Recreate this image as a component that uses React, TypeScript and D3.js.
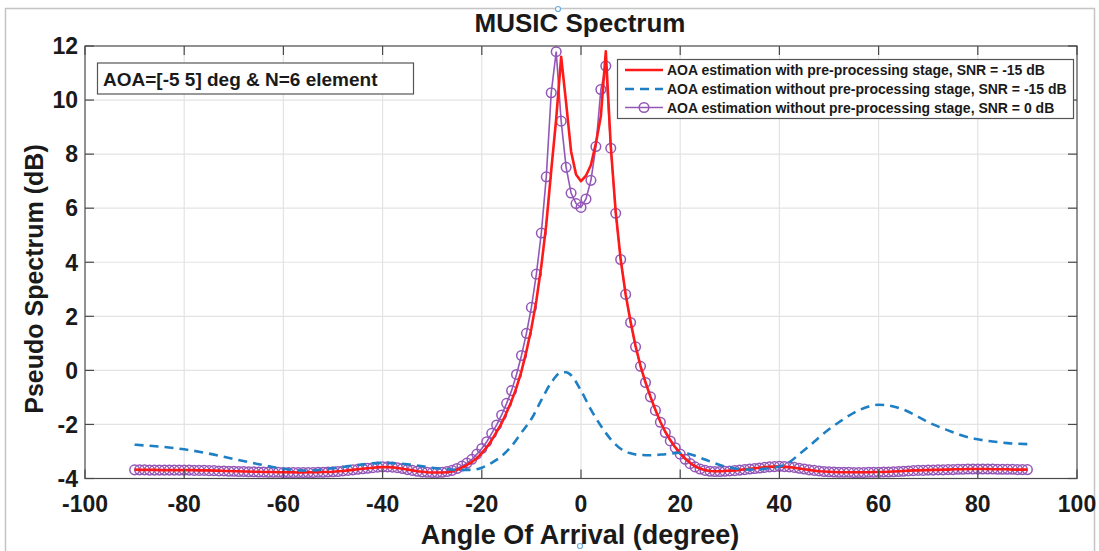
import React, { useEffect, useRef } from 'react';
import * as d3 from 'd3';

// angle grid (deg) shared by the red and purple series, -90..90 step 1
const angles = d3.range(-90, 91);

// AOA estimation with pre-processing stage, SNR = -15 dB
const withPre = [
  -3.67, -3.68, -3.68, -3.68, -3.68, -3.69, -3.69, -3.69, -3.69, -3.69,
  -3.69, -3.69, -3.69, -3.70, -3.70, -3.70, -3.71, -3.71, -3.72, -3.72,
  -3.73, -3.73, -3.74, -3.74, -3.75, -3.75, -3.76, -3.76, -3.76, -3.77,
  -3.77, -3.77, -3.77, -3.78, -3.78, -3.77, -3.77, -3.77, -3.76, -3.76,
  -3.75, -3.73, -3.72, -3.70, -3.68, -3.66, -3.64, -3.62, -3.60, -3.59,
  -3.58, -3.58, -3.59, -3.61, -3.64, -3.67, -3.70, -3.73, -3.75, -3.77,
  -3.78, -3.78, -3.78, -3.77, -3.74, -3.68, -3.60, -3.50, -3.39, -3.25,
  -3.06, -2.84, -2.58, -2.27, -1.95, -1.56, -1.13, -0.63, -0.03, 0.71,
  1.56, 2.58, 3.86, 5.40, 7.40, 9.30, 11.60, 9.90, 8.10, 7.25,
  7.00, 7.20, 7.60, 8.40, 9.40, 11.80, 8.30, 5.85, 4.10, 2.81,
  1.80, 0.90, 0.16, -0.44, -0.97, -1.46, -1.90, -2.27, -2.58, -2.84,
  -3.07, -3.26, -3.42, -3.55, -3.63, -3.69, -3.72, -3.73, -3.73, -3.72,
  -3.71, -3.70, -3.68, -3.66, -3.64, -3.62, -3.60, -3.58, -3.57, -3.56,
  -3.56, -3.57, -3.58, -3.60, -3.63, -3.66, -3.68, -3.71, -3.73, -3.74,
  -3.75, -3.76, -3.77, -3.77, -3.77, -3.77, -3.77, -3.77, -3.77, -3.76,
  -3.76, -3.76, -3.75, -3.74, -3.73, -3.72, -3.71, -3.70, -3.70, -3.69,
  -3.69, -3.68, -3.68, -3.67, -3.67, -3.66, -3.66, -3.66, -3.65, -3.65,
  -3.65, -3.65, -3.65, -3.66, -3.66, -3.66, -3.66, -3.67, -3.67, -3.67,
  -3.67,
];

// AOA estimation without pre-processing stage, SNR = 0 dB (circle markers)
const noPre0 = [
  -3.68, -3.68, -3.68, -3.69, -3.69, -3.69, -3.69, -3.69, -3.69, -3.69,
  -3.69, -3.69, -3.70, -3.70, -3.70, -3.71, -3.71, -3.72, -3.72, -3.73,
  -3.73, -3.74, -3.74, -3.75, -3.75, -3.76, -3.76, -3.77, -3.77, -3.77,
  -3.78, -3.78, -3.78, -3.78, -3.78, -3.78, -3.78, -3.77, -3.77, -3.76,
  -3.75, -3.74, -3.72, -3.70, -3.68, -3.66, -3.64, -3.62, -3.60, -3.58,
  -3.57, -3.57, -3.58, -3.60, -3.63, -3.67, -3.70, -3.73, -3.76, -3.77,
  -3.78, -3.78, -3.77, -3.74, -3.70, -3.63, -3.54, -3.43, -3.29, -3.10,
  -2.89, -2.64, -2.33, -2.02, -1.65, -1.22, -0.75, -0.15, 0.55, 1.37,
  2.33, 3.56, 5.08, 7.16, 10.27, 11.79, 9.22, 7.51, 6.56, 6.17,
  6.03, 6.34, 7.03, 8.28, 10.39, 11.26, 8.22, 5.81, 4.10, 2.81,
  1.77, 0.87, 0.15, -0.45, -0.98, -1.48, -1.92, -2.30, -2.61, -2.86,
  -3.10, -3.29, -3.45, -3.57, -3.65, -3.70, -3.73, -3.74, -3.74, -3.73,
  -3.72, -3.71, -3.69, -3.67, -3.65, -3.63, -3.61, -3.59, -3.57, -3.56,
  -3.55, -3.56, -3.57, -3.59, -3.62, -3.65, -3.68, -3.70, -3.72, -3.74,
  -3.75, -3.76, -3.77, -3.77, -3.77, -3.78, -3.78, -3.78, -3.77, -3.77,
  -3.77, -3.76, -3.76, -3.75, -3.74, -3.73, -3.72, -3.71, -3.70, -3.70,
  -3.69, -3.69, -3.68, -3.68, -3.67, -3.67, -3.66, -3.66, -3.65, -3.65,
  -3.65, -3.65, -3.65, -3.65, -3.66, -3.66, -3.66, -3.66, -3.67, -3.67,
  -3.67,
];

// AOA estimation without pre-processing stage, SNR = -15 dB (dashed)
const blueAngles = [
  -90, -85, -80, -75, -70, -65, -60, -55, -50, -45, -40, -35, -30, -25, -22,
  -20, -18, -16, -14, -12, -10, -8, -6, -4, -3, -2, 0, 2, 4, 6, 8, 10, 12,
  14, 17, 20, 22, 25, 28, 31, 34, 37, 40, 42, 44, 46, 48, 50, 52, 55, 58,
  60, 62, 65, 68, 71, 74, 77, 80, 83, 86, 90,
];
const noPre15 = [
  -2.75, -2.82, -2.92, -3.08, -3.28, -3.47, -3.64, -3.71, -3.62, -3.50,
  -3.42, -3.47, -3.60, -3.68, -3.68, -3.60, -3.42, -3.17, -2.80, -2.30,
  -1.80, -1.10, -0.45, -0.08, -0.07, -0.18, -0.75, -1.45, -2.05, -2.55,
  -2.90, -3.07, -3.13, -3.14, -3.10, -3.05, -3.10, -3.30, -3.50, -3.63,
  -3.67, -3.64, -3.56, -3.40, -3.10, -2.80, -2.48, -2.18, -1.92, -1.57,
  -1.34, -1.27, -1.30, -1.45, -1.72, -2.00, -2.22, -2.42, -2.55, -2.63,
  -2.69, -2.73,
];

const xTicks = [-100, -80, -60, -40, -20, 0, 20, 40, 60, 80, 100];
const yTicks = [-4, -2, 0, 2, 4, 6, 8, 10, 12];

const legendLabels = [
  'AOA estimation with pre-processing stage, SNR = -15 dB',
  'AOA estimation without pre-processing stage, SNR = -15 dB',
  'AOA estimation without pre-processing stage, SNR = 0 dB',
];

const RED = '#ff1a1a';
const BLUE = '#1f7fc4';
const PURPLE = '#9357b8';
const FONT = '"Liberation Sans", Arial, sans-serif';

export default function App() {
  const ref = useRef<SVGSVGElement>(null);

  useEffect(() => {
    const svg = d3.select(ref.current);
    svg.selectAll('*').remove();

    const left = 85, right = 1077, top = 46, bottom = 478.5;
    const x = d3.scaleLinear().domain([-100, 100]).range([left, right]);
    const y = d3.scaleLinear().domain([-4, 12]).range([bottom, top]);

    // figure frame
    svg.append('path')
      .attr('d', `M5.5,551 V8.5 H1094.5 V551`)
      .attr('fill', 'none').attr('stroke', '#c4c4c4').attr('stroke-width', 1.5);

    svg.append('rect')
      .attr('x', left).attr('y', top).attr('width', right - left).attr('height', bottom - top)
      .attr('fill', '#fff');

    // grid
    const grid = svg.append('g').attr('stroke', '#e3e3e3').attr('stroke-width', 1.2);
    xTicks.slice(1, -1).forEach(t => {
      grid.append('line').attr('x1', x(t)).attr('x2', x(t)).attr('y1', top).attr('y2', bottom);
    });
    yTicks.slice(1, -1).forEach(t => {
      grid.append('line').attr('x1', left).attr('x2', right).attr('y1', y(t)).attr('y2', y(t));
    });

    // series
    const plot = svg.append('g');
    const lineFine = d3.line<number>().x((d, i) => x(angles[i])).y(d => y(d));

    plot.append('path').datum(noPre0)
      .attr('d', lineFine).attr('fill', 'none')
      .attr('stroke', PURPLE).attr('stroke-width', 1.6);
    plot.selectAll('circle.mk').data(noPre0).enter()
      .append('circle').attr('class', 'mk')
      .attr('cx', (d, i) => x(angles[i])).attr('cy', d => y(d)).attr('r', 4.8)
      .attr('fill', 'none').attr('stroke', PURPLE).attr('stroke-width', 1.5);

    plot.append('path').datum(withPre)
      .attr('d', lineFine).attr('fill', 'none')
      .attr('stroke', RED).attr('stroke-width', 2.6).attr('stroke-linejoin', 'round');

    const lineBlue = d3.line<number>()
      .x((d, i) => x(blueAngles[i])).y(d => y(d)).curve(d3.curveMonotoneX);
    plot.append('path').datum(noPre15)
      .attr('d', lineBlue).attr('fill', 'none')
      .attr('stroke', BLUE).attr('stroke-width', 2.6).attr('stroke-dasharray', '9,6');

    // axes box + inward ticks
    const ax = svg.append('g').attr('stroke', '#4a4a4a').attr('stroke-width', 1.2);
    ax.append('rect')
      .attr('x', left).attr('y', top).attr('width', right - left).attr('height', bottom - top)
      .attr('fill', 'none');
    xTicks.forEach(t => {
      ax.append('line').attr('x1', x(t)).attr('x2', x(t)).attr('y1', bottom).attr('y2', bottom - 9);
      ax.append('line').attr('x1', x(t)).attr('x2', x(t)).attr('y1', top).attr('y2', top + 9);
    });
    yTicks.forEach(t => {
      ax.append('line').attr('x1', left).attr('x2', left + 9).attr('y1', y(t)).attr('y2', y(t));
      ax.append('line').attr('x1', right).attr('x2', right - 9).attr('y1', y(t)).attr('y2', y(t));
    });

    const labels = svg.append('g')
      .attr('font-family', FONT).attr('font-weight', 'bold').attr('fill', '#1a1a1a');
    xTicks.forEach(t => {
      labels.append('text').attr('x', x(t)).attr('y', 512)
        .attr('text-anchor', 'middle').attr('font-size', 23).text(t);
    });
    yTicks.forEach(t => {
      labels.append('text').attr('x', 78).attr('y', y(t)).attr('dy', '0.36em')
        .attr('text-anchor', 'end').attr('font-size', 23).text(t);
    });

    labels.append('text').attr('x', 580).attr('y', 32)
      .attr('text-anchor', 'middle').attr('font-size', 26).text('MUSIC Spectrum');
    labels.append('text').attr('x', 580).attr('y', 544)
      .attr('text-anchor', 'middle').attr('font-size', 27).text('Angle Of Arrival (degree)');
    labels.append('text')
      .attr('transform', 'translate(43,279) rotate(-90)')
      .attr('text-anchor', 'middle').attr('font-size', 25).text('Pseudo Spectrum (dB)');

    // selection handles left over in the screenshot
    [[558, 9], [580, 546]].forEach(([cx, cy]) => {
      svg.append('circle').attr('cx', cx).attr('cy', cy).attr('r', 2.5)
        .attr('fill', '#fff').attr('stroke', '#6aaee0').attr('stroke-width', 1.2);
    });

    // annotation box
    const note = svg.append('g');
    note.append('rect').attr('x', 97.5).attr('y', 63).attr('width', 316).attr('height', 31)
      .attr('fill', '#fff').attr('stroke', '#555').attr('stroke-width', 1.2);
    note.append('text').attr('x', 103).attr('y', 86)
      .attr('font-family', FONT).attr('font-weight', 'bold').attr('font-size', 19)
      .attr('fill', '#1a1a1a')
      .text('AOA=[-5 5] deg & N=6 element');

    // legend
    const lg = svg.append('g');
    lg.append('rect').attr('x', 617.5).attr('y', 59.5).attr('width', 456).attr('height', 59)
      .attr('fill', '#fff').attr('stroke', '#555').attr('stroke-width', 1.2);
    const rows = [70, 89, 107.5];
    const styles = [
      { c: RED, dash: null, w: 2.6 },
      { c: BLUE, dash: '9,6', w: 2.6 },
      { c: PURPLE, dash: null, w: 1.6 },
    ];
    rows.forEach((ry, i) => {
      const l = lg.append('line').attr('x1', 625).attr('x2', 663).attr('y1', ry).attr('y2', ry)
        .attr('stroke', styles[i].c).attr('stroke-width', styles[i].w);
      if (styles[i].dash) l.attr('stroke-dasharray', styles[i].dash);
      if (i === 2) {
        lg.append('circle').attr('cx', 644).attr('cy', ry).attr('r', 4.8)
          .attr('fill', 'none').attr('stroke', PURPLE).attr('stroke-width', 1.5);
      }
      lg.append('text').attr('x', 667).attr('y', ry).attr('dy', '0.36em')
        .attr('font-family', FONT).attr('font-weight', 'bold').attr('font-size', 14)
        .attr('fill', '#1a1a1a').text(legendLabels[i]);
    });
  }, []);

  return (
    <svg ref={ref} width={1099} height={551}
      style={{ position: 'absolute', left: 0, top: 0, background: '#fff' }} />
  );
}
